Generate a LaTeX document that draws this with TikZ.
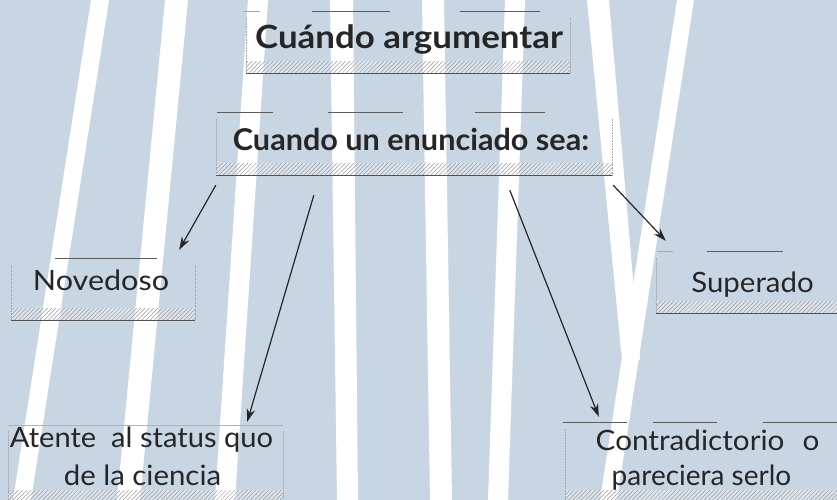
\documentclass[tikz,border=0pt]{standalone}
\usepackage{fontspec}
\setmainfont{Lato}
\usetikzlibrary{arrows.meta,patterns.meta,calc}
\definecolor{bg}{HTML}{C8D6E4}
\definecolor{ink}{HTML}{262626}
\newcommand\boxdeco[1]{%
  \fill[white,opacity=0.35] ($(#1.south west)+(0,-12)$) rectangle (#1.south east);
  \fill[hatchband] ($(#1.south west)+(0,-12)$) rectangle (#1.south east);
  \draw[sideline] ($(#1.north west)+(0,6)$) -- (#1.south west);
  \draw[sideline] ($(#1.north east)+(0,6)$) -- (#1.south east);
  \draw[bottomline] (#1.south west) -- (#1.south east);
}
\newcommand\sx[2]{\scalebox{#1}[1]{#2}}
\begin{document}
\begin{tikzpicture}[x=1pt,y=-1pt,
  font=\fontsize{28}{34}\selectfont,
  boxnode/.style={draw=none,inner sep=0pt},
  labeltext/.style={text=ink, inner sep=0pt, anchor=base},
  topseg/.style={draw=ink!75, line width=1pt},
  sideline/.style={draw=gray!70, line width=0.6pt, densely dotted},
  bottomline/.style={draw=ink!80, line width=0.9pt},
  hatchband/.style={pattern={Lines[angle=45,distance=3pt,line width=0.5pt]}, pattern color=gray!80},
  conn/.style={draw=ink, line width=1.2pt, -{Stealth[length=13pt,width=8.5pt]}},
  stripe/.style={fill=white}
]
\useasboundingbox (0,0) rectangle (837,500);
\fill[bg] (0,0) rectangle (837,500);
% stripes
\fill[stripe] (91,0) -- (109,0) -- (31,500) -- (13,500) -- cycle;
\fill[stripe] (165,0) -- (188,0) -- (140,500) -- (117,500) -- cycle;
\fill[stripe] (248,0) -- (268,0) -- (235,500) -- (215,500) -- cycle;
\fill[stripe] (330,0) -- (353,0) -- (358,500) -- (337,500) -- cycle;
\fill[stripe] (422,0) -- (444,0) -- (452,500) -- (430,500) -- cycle;
\fill[stripe] (505,0) -- (525,0) -- (508,500) -- (488,500) -- cycle;
\fill[stripe] (587,0) -- (609,0) -- (640,360) -- (622,360) -- cycle;
\fill[stripe] (677,0) -- (694,0) -- (617,500) -- (600,500) -- cycle;

% boxes
\node[boxnode, minimum width=324pt, minimum height=61pt] (b1) at (408,42.5) {};
\node[boxnode, minimum width=396pt, minimum height=62pt] (b2) at (414,144) {};
\node[boxnode, minimum width=184pt, minimum height=61pt] (b3) at (103,289.5) {};
\node[boxnode, minimum width=194pt, minimum height=61pt] (b4) at (753,282.5) {};
\node[boxnode, minimum width=275pt, minimum height=77pt] (b5) at (145.5,463.5) {};
\node[boxnode, minimum width=285pt, minimum height=79pt] (b6) at (707.5,462.5) {};
\boxdeco{b1}\boxdeco{b2}\boxdeco{b3}\boxdeco{b4}\boxdeco{b5}\boxdeco{b6}

% top segments
\draw[topseg, draw=ink!40] ($(b1.north west)+(-3,0)$) -- ++(17,0);
\draw[topseg] ($(b1.north west)+(66,0)$) -- ++(78,0);
\draw[topseg] ($(b1.north west)+(214,0)$) -- ++(80,0);
\draw[topseg] ($(b2.north west)+(1,0)$) -- ++(56,0);
\draw[topseg] ($(b2.north west)+(112,0)$) -- ++(75,0);
\draw[topseg] ($(b2.north west)+(259,0)$) -- ++(70,0);
\draw[topseg] ($(b3.north west)+(44,0)$) -- ++(102,0);
\draw[topseg, draw=ink!40] ($(b4.north west)+(1,0)$) -- ++(16,0);
\draw[topseg] ($(b4.north west)+(51,0)$) -- ++(76,0);
\draw[topseg, draw=gray!60, line width=0.6pt] (b5.north west) -- (b5.north east);
\draw[topseg] ($(b6.north west)+(-2,0)$) -- ++(64,0);
\draw[topseg] ($(b6.north west)+(88,0)$) -- ++(64,0);
\draw[topseg] ($(b6.north west)+(198,0)$) -- ++(74,0);

% texts
\node[labeltext] (t1) at (409,49) {\fontsize{32}{38}\selectfont\bfseries\sx{1.09}{Cuándo argumentar}};
\node[labeltext] (t2) at (411,150) {\fontsize{30}{36}\selectfont\bfseries\sx{1.02}{Cuando un enunciado sea:}};
\node[labeltext] (t3) at (101,290) {\sx{1.09}{Novedoso}};
\node[labeltext] (t4) at (752.5,292) {\sx{1.05}{Superado}};
\node[labeltext] (t5a) at (141.5,447) {\sx{1.04}{Atente\ \ al status quo}};
\node[labeltext] (t5b) at (142.5,485) {\sx{1.05}{de la ciencia}};
\node[labeltext] (t6a) at (707.5,450) {\sx{1.06}{Contradictorio\hspace{17pt}o}};
\node[labeltext] (t6b) at (701.5,485) {pareciera serlo};

% connectors
\draw[conn] ($(b2.south west)+(0,10)$) -- ($(b3.north east)+(-16,-9)$);
\draw[conn] ($(b2.south west)+(98,20)$) -- ($(b5.north east)+(-36,-3)$);
\draw[conn] ($(b2.south west)+(294,15)$) -- ($(b6.north west)+(34,-6)$);
\draw[conn] ($(b2.south east)+(1,10)$) -- ($(b4.north west)+(10,-11)$);
\end{tikzpicture}
\end{document}
